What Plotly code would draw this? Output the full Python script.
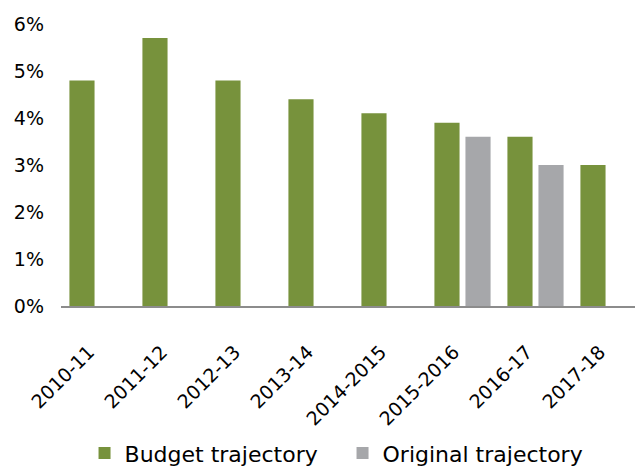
import plotly.graph_objects as go

categories = ["2010-11", "2011-12", "2012-13", "2013-14", "2014-2015", "2015-2016", "2016-17", "2017-18"]
budget = [4.8, 5.7, 4.8, 4.4, 4.1, 3.9, 3.6, 3.0]
original = [None, None, None, None, None, 3.6, 3.0, None]
yticks = [0, 1, 2, 3, 4, 5, 6]
yticklabels = ["0%", "1%", "2%", "3%", "4%", "5%", "6%"]

FONT = "DejaVu Sans"

fig = go.Figure()
fig.add_trace(go.Bar(x=categories, y=budget, name="Budget trajectory",
                     marker=dict(color="#77923C", line=dict(width=0))))
fig.add_trace(go.Bar(x=categories, y=original, name="Original trajectory",
                     marker=dict(color="#A6A7AA", line=dict(width=0))))

fig.update_layout(
    width=635, height=468,
    margin=dict(l=61, r=0, t=24, b=162, autoexpand=False),
    paper_bgcolor="white", plot_bgcolor="white",
    barmode="group", bargap=0.15, bargroupgap=0.19,
    font=dict(family=FONT, size=19, color="#000000"),
    showlegend=True,
    legend=dict(orientation="h", x=0.041, xanchor="left", y=-0.522, yanchor="middle",
                font=dict(size=22), itemwidth=30, traceorder="normal",
                entrywidth=213, entrywidthmode="pixels"),
    xaxis=dict(type="category", range=[-0.5, 7.363], showgrid=False, automargin=False,
               tickvals=categories,
               ticktext=[c + "\u00a0\u00a0" for c in categories],
               showline=True, linecolor="#8C8C8C", linewidth=2,
               ticks="", tickangle=-45, ticklabelstandoff=17),
    yaxis=dict(range=[0, 6], tickvals=yticks, ticktext=yticklabels, automargin=False,
               showgrid=False, showline=False, zeroline=False, ticks="",
               ticklabelstandoff=16),
)

fig.write_html("out.html")
